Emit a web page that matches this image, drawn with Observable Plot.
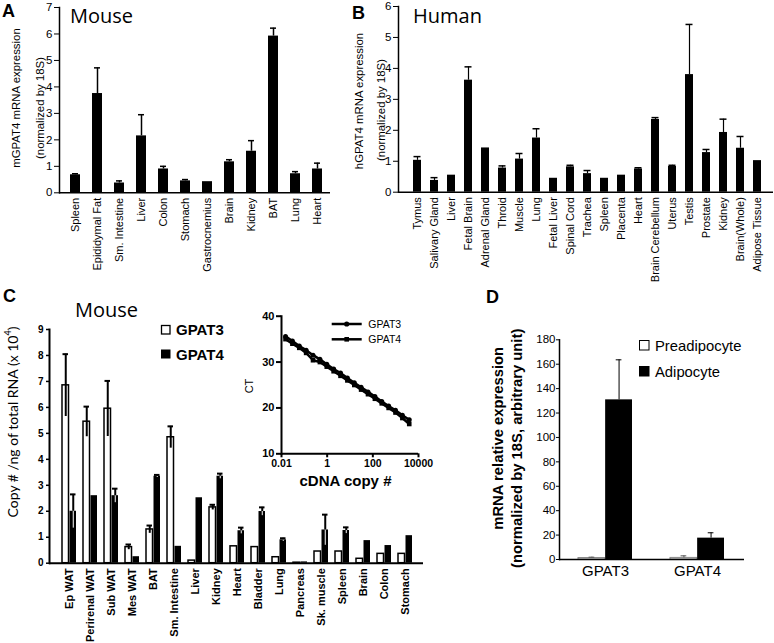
<!DOCTYPE html>
<html>
<head>
<meta charset="utf-8">
<script src="https://cdn.jsdelivr.net/npm/d3@7"></script>
<script src="https://cdn.jsdelivr.net/npm/@observablehq/plot@0.6"></script>
<style>
html,body{margin:0;padding:0;background:#fff;}
#root{position:relative;width:774px;height:643px;overflow:hidden;background:#fff;}
#root svg{position:absolute;}
</style>
</head>
<body>
<div id="root"></div>
<script>
// ---------------- Panel A : mouse tissues ----------------
const aTissues = ["Spleen","Epididymal Fat","Sm. Intestine","Liver","Colon","Stomach","Gastrocnemius","Brain","Kidney","BAT","Lung","Heart"];
const aMean = [0.68,3.75,0.37,2.15,0.90,0.45,0.42,1.17,1.57,5.92,0.72,0.90];
const aErr  = [0.04,0.97,0.08,0.80,0.10,0.05,0.00,0.08,0.40,0.30,0.08,0.22];
const aTicks = [0,1,2,3,4,5,6,7];

// ---------------- Panel B : human tissues ----------------
const bTissues = ["Tymus","Salivary Gland","Liver","Fetal Brain","Adrenal Gland","Throid","Muscle","Lung","Fetal Liver","Spinal Cord","Trachea","Spleen","Placenta","Heart","Brain Cerebellum","Uterus","Testis","Prostate","Kidney","Brain(Whole)","Adipose Tissue"];
const bMean = [1.03,0.38,0.55,3.62,1.43,0.78,1.07,1.75,0.45,0.82,0.60,0.45,0.55,0.75,2.35,0.83,3.80,1.28,1.93,1.42,1.02];
const bErr  = [0.12,0.09,0.00,0.43,0.00,0.07,0.18,0.30,0.00,0.05,0.10,0.00,0.00,0.04,0.06,0.04,1.62,0.10,0.43,0.38,0.00];
const bTicks = [0,1,2,3,4,5,6];

// ---------------- Panel C : copy numbers ----------------
const cTissues = ["Ep WAT","Perirenal WAT","Sub WAT","Mes WAT","BAT","Sm. Intestine","Liver","Kidney","Heart","Bladder","Lung","Pancreas","Sk. muscle","Spleen","Brain","Colon","Stomach"];
const cGPAT3    = [6.85,5.45,5.95,0.62,1.30,4.85,0.10,2.15,0.65,0.62,0.23,0.02,0.45,0.45,0.17,0.36,0.36];
const cGPAT3Err = [1.20,0.58,1.07,0.10,0.15,0.42,0.00,0.10,0.00,0.00,0.00,0.00,0.00,0.00,0.00,0.00,0.00];
const cGPAT4    = [2.00,2.60,2.60,0.25,3.35,0.65,2.52,3.35,1.25,1.99,0.90,0.05,1.28,1.26,0.87,0.68,1.06];
const cGPAT4Err = [0.65,0.00,0.27,0.00,0.05,0.00,0.00,0.10,0.12,0.16,0.06,0.00,0.59,0.12,0.00,0.00,0.00];
const cTicks = [0,1,2,3,4,5,6,7,8,9];

// ---------------- Panel C inset : standard curves ----------------
const insetCopies = [0.015,0.03,0.06,0.12,0.24,0.48,0.96,1.92,3.84,7.68,15.4,30.7,61.4,123,246,492,983,1966,3932];
const insetCtGPAT3 = [35.6,34.6,33.5,32.6,31.5,30.6,29.5,28.5,27.6,26.5,25.5,24.5,23.5,22.5,21.4,20.4,19.5,18.4,17.4];
const insetCtGPAT4 = [35.0,34.0,33.1,32.0,30.4,30.0,29.0,28.0,27.0,26.0,25.0,24.0,23.0,22.0,21.0,20.0,19.0,17.8,16.5];
const insetXTicks = [0.01,1,100,10000];
const insetYTicks = [10,20,30,40];

// ---------------- Panel D : 3T3 cells ----------------
const dGenes = ["GPAT3","GPAT4"];
const dPre    = [1.2,1.3];
const dPreErr = [0.7,1.7];
const dAdi    = [130.8,17.5];
const dAdiErr = [32.8,4.4];
const dTicks = [0,20,40,60,80,100,120,140,160,180];

// ---------------------------------------------------------
const ARIAL = "'Liberation Sans', Arial, Helvetica, sans-serif";
const root = document.getElementById("root");
function put(el, left, top){ el.style.position="absolute"; el.style.left=left+"px"; el.style.top=top+"px"; root.appendChild(el); return el; }
const style = (size, weight="normal") => ({background:"none", fontFamily:ARIAL, fontSize:size+"px", fontWeight:weight, color:"#000", overflow:"visible"});
const plain = d => String(d);

// ---- A ----
const aData = aTissues.map((t,i)=>({t, v:aMean[i], e:aErr[i]}));
const aE = aData.filter(d=>d.e>0);
put(Plot.plot({
  width:340, height:290, marginLeft:59, marginRight:10, marginTop:7, marginBottom:97.7,
  style:style(11),
  x:{domain:aTissues, paddingInner:0.53, paddingOuter:0, insetLeft:6, insetRight:2, label:null},
  y:{domain:[0,7], label:null},
  marks:[
    Plot.barY(aData,{x:"t", y:"v", fill:"#000"}),
    Plot.ruleX(aE,{x:"t", y1:"v", y2:d=>d.v+d.e, strokeWidth:1.5}),
    Plot.tickY(aE,{x:"t", y:d=>d.v+d.e, strokeWidth:1.5, insetLeft:2, insetRight:2}),
    Plot.ruleY([0],{strokeWidth:1.5}),
    Plot.frame({anchor:"left", strokeWidth:1.5}),
    Plot.axisY({ticks:aTicks, tickFormat:plain, tickSize:5, tickPadding:2, fontSize:11.5, label:null}),
    Plot.axisX({tickSize:0, tickRotate:-90, tickPadding:5, fontSize:11, label:null})
  ]
}), 0, 0);

// ---- B ----
const bData = bTissues.map((t,i)=>({t, v:bMean[i], e:bErr[i]}));
const bE = bData.filter(d=>d.e>0);
put(Plot.plot({
  width:434, height:290, marginLeft:58, marginRight:1, marginTop:6, marginBottom:98.3,
  style:style(11),
  x:{domain:bTissues, paddingInner:0.547, paddingOuter:0, insetLeft:8, insetRight:6, label:null},
  y:{domain:[0,6], label:null},
  marks:[
    Plot.barY(bData,{x:"t", y:"v", fill:"#000"}),
    Plot.ruleX(bE,{x:"t", y1:"v", y2:d=>d.v+d.e, strokeWidth:1.2}),
    Plot.tickY(bE,{x:"t", y:d=>d.v+d.e, strokeWidth:1.5, insetLeft:0.5, insetRight:0.5}),
    Plot.ruleY([0],{strokeWidth:1.5}),
    Plot.frame({anchor:"left", strokeWidth:1.5}),
    Plot.axisY({ticks:bTicks, tickFormat:plain, tickSize:5, tickPadding:2, fontSize:11.5, label:null}),
    Plot.axisX({tickSize:0, tickRotate:-90, tickPadding:5, fontSize:11, label:null})
  ]
}), 340, 0);

// ---- C ----
const cData = cTissues.map((t,i)=>({t, g3:cGPAT3[i], e3:cGPAT3Err[i], g4:cGPAT4[i], e4:cGPAT4Err[i]}));
const c3E = cData.filter(d=>d.e3>0), c4E = cData.filter(d=>d.e4>0);
const HALF = 7.5;
put(Plot.plot({
  width:430, height:353, marginLeft:49, marginRight:7, marginTop:39, marginBottom:80.3,
  style:style(11, "bold"),
  x:{domain:cTissues, paddingInner:0.31, paddingOuter:0, insetLeft:6.2, insetRight:3.8, label:null},
  y:{domain:[0,9], label:null},
  marks:[
    Plot.barY(cData,{x:"t", y:"g4", fill:"#000", insetLeft:HALF}),
    Plot.barY(cData,{x:"t", y:"g3", fill:"#fff", stroke:"#000", strokeWidth:1.5, insetRight:HALF}),
    Plot.ruleX(c3E,{x:"t", y1:d=>d.g3-d.e3, y2:d=>d.g3+d.e3, dx:-HALF/2, strokeWidth:2}),
    Plot.tickY(c3E,{x:"t", y:d=>d.g3+d.e3, insetLeft:0.5, insetRight:HALF+0.5, strokeWidth:2}),
    Plot.ruleX(c4E,{x:"t", y1:d=>d.g4-d.e4, y2:"g4", dx:HALF/2, stroke:"#fff", strokeWidth:1}),
    Plot.ruleX(c4E,{x:"t", y1:"g4", y2:d=>d.g4+d.e4, dx:HALF/2, strokeWidth:2}),
    Plot.tickY(c4E,{x:"t", y:d=>d.g4+d.e4, insetLeft:HALF+0.5, insetRight:0.5, strokeWidth:2}),
    Plot.ruleY([0],{strokeWidth:2}),
    Plot.frame({anchor:"left", strokeWidth:2}),
    Plot.axisY({ticks:cTicks, tickFormat:plain, tickSize:3, tickPadding:3, fontSize:10, fontWeight:"bold", strokeWidth:1.5, label:null}),
    Plot.axisX({tickSize:0, tickRotate:-90, tickPadding:5, fontSize:11, fontWeight:"bold", label:null})
  ]
}), 0, 290);

// ---- C inset ----
const in3 = insetCopies.map((c,i)=>({c, ct:insetCtGPAT3[i]}));
const in4 = insetCopies.map((c,i)=>({c, ct:insetCtGPAT4[i]}));
put(Plot.plot({
  width:190, height:210, marginLeft:41, marginRight:12, marginTop:25.7, marginBottom:46.7,
  style:style(10.5, "bold"),
  x:{type:"log", domain:[0.01,10000], label:null},
  y:{domain:[10,40], label:null},
  marks:[
    Plot.line(in4,{x:"c", y:"ct", strokeWidth:2.5}),
    Plot.dot(in4,{x:"c", y:"ct", symbol:"square", r:2.6, fill:"#000"}),
    Plot.line(in3,{x:"c", y:"ct", strokeWidth:2.5}),
    Plot.dot(in3,{x:"c", y:"ct", r:2.5, fill:"#000"}),
    Plot.ruleY([10],{strokeWidth:2}),
    Plot.frame({anchor:"left", strokeWidth:2}),
    Plot.axisX({ticks:insetXTicks, tickFormat:plain, tickSize:4, tickPadding:2, fontSize:10.5, fontWeight:"bold", strokeWidth:2, label:null}),
    Plot.axisY({ticks:insetYTicks, tickFormat:plain, tickSize:5, tickPadding:2, fontSize:11, fontWeight:"bold", strokeWidth:2, label:null})
  ]
}), 240, 290);

// ---- D ----
const dData = dGenes.map((g,i)=>({g, pre:dPre[i], preE:dPreErr[i], adi:dAdi[i], adiE:dAdiErr[i]}));
const DH = 27.15;
put(Plot.plot({
  width:314, height:353, marginLeft:99, marginRight:30, marginTop:49.3, marginBottom:84,
  style:style(11.5),
  x:{domain:dGenes, paddingInner:0.413, paddingOuter:0.206, label:null},
  y:{domain:[0,180], label:null},
  marks:[
    Plot.barY(dData,{x:"g", y:"pre", fill:"#eeeeee", stroke:"#888", strokeWidth:1, insetRight:DH}),
    Plot.barY(dData,{x:"g", y:"adi", fill:"#000", insetLeft:DH}),
    Plot.ruleX(dData,{x:"g", y1:"pre", y2:d=>d.pre+d.preE, dx:-DH/2, stroke:"#555", strokeWidth:1}),
    Plot.tickY(dData,{x:"g", y:d=>d.pre+d.preE, insetLeft:DH/2-3, insetRight:DH+DH/2-3, stroke:"#555", strokeWidth:1}),
    Plot.ruleX(dData,{x:"g", y1:"adi", y2:d=>d.adi+d.adiE, dx:DH/2, strokeWidth:1}),
    Plot.tickY(dData,{x:"g", y:d=>d.adi+d.adiE, insetLeft:DH+DH/2-3, insetRight:DH/2-3, strokeWidth:1}),
    Plot.ruleY([0],{strokeWidth:1.5}),
    Plot.frame({anchor:"left", strokeWidth:1.5}),
    Plot.axisY({ticks:dTicks, tickFormat:plain, tickSize:3, tickPadding:1, fontSize:11.5, label:null}),
    Plot.axisX({tickSize:0, tickPadding:6, fontSize:15, label:null})
  ]
}), 460, 290);

// ---- overlay: panel letters, titles, axis titles, legends ----
const ov = d3.select(root).append("svg").attr("width",774).attr("height",643)
  .style("left","0px").style("top","0px").style("pointer-events","none").style("overflow","visible");
function txt(s, x, y, o={}){
  return ov.append("text").attr("x",x).attr("y",y)
    .attr("font-family", o.family || ARIAL).attr("font-size", o.size || 11)
    .attr("font-weight", o.weight || "normal").attr("fill","#000")
    .attr("text-anchor", o.anchor || "start").text(s);
}
function vtxt(s, cx, cy, o={}){
  return ov.append("text").attr("transform",`translate(${cx},${cy}) rotate(-90)`)
    .attr("font-family", o.family || ARIAL).attr("font-size", o.size || 11)
    .attr("font-weight", o.weight || "normal").attr("fill","#000")
    .attr("text-anchor","middle").attr("dominant-baseline","central").text(s);
}
// panel letters
txt("A", 2, 17, {size:18, weight:"bold"});
txt("B", 352, 19, {size:18, weight:"bold"});
txt("C", 3, 302, {size:18, weight:"bold"});
txt("D", 486, 303, {size:18, weight:"bold"});
// titles
txt("Mouse", 70, 22.5, {family:"'Open Sans'", size:20});
txt("Human", 413, 22.7, {family:"'Open Sans'", size:20});
txt("Mouse", 75, 316.7, {family:"'Open Sans'", size:20});
// A / B y titles
vtxt("mGPAT4 mRNA expression", 16, 98, {size:11.4});
vtxt("(normalized by 18S)", 40, 108, {size:11.4});
vtxt("hGPAT4 mRNA expression", 358.5, 101, {size:11.4});
vtxt("(normalized by 18S)", 381, 110, {size:11.4});
// C y title with superscript
{
  const t = vtxt("", 12, 422, {family:"Lato", size:14});
  t.append("tspan").text("Copy # /ng of total RNA (x 10");
  t.append("tspan").attr("dy",-5).attr("font-size",9).text("4");
  t.append("tspan").attr("dy",5).text(")");
}
// inset titles
vtxt("CT", 249, 386, {size:11});
txt("cDNA copy #", 345.5, 486, {size:15, weight:"bold", anchor:"middle"});
// inset legend
[["GPAT3",324,"circle"],["GPAT4",339.3,"square"]].forEach(([s,y,sym])=>{
  ov.append("line").attr("x1",331.7).attr("x2",361.7).attr("y1",y).attr("y2",y).attr("stroke","#000").attr("stroke-width",2.5);
  if(sym==="circle") ov.append("circle").attr("cx",346.7).attr("cy",y).attr("r",2.6).attr("fill","#000");
  else ov.append("rect").attr("x",344.4).attr("y",y-2.3).attr("width",4.6).attr("height",4.6).attr("fill","#000");
  txt(s, 368.3, y+3.6, {size:10.5});
});
// C legend
ov.append("rect").attr("x",161.5).attr("y",325.5).attr("width",8.5).attr("height",8.5).attr("fill","#fff").attr("stroke","#000").attr("stroke-width",1.3);
txt("GPAT3", 176, 335, {size:15, weight:"bold"});
ov.append("rect").attr("x",161).attr("y",349.5).attr("width",9.5).attr("height",9).attr("fill","#000");
txt("GPAT4", 176, 360, {size:15, weight:"bold"});
// D legend
ov.append("rect").attr("x",639.5).attr("y",340.5).attr("width",9.5).attr("height",9.5).attr("fill","#fff").attr("stroke","#000").attr("stroke-width",1);
txt("Preadipocyte", 655, 351, {size:14.8});
ov.append("rect").attr("x",639).attr("y",366).attr("width",10.5).attr("height",10.5).attr("fill","#000");
txt("Adipocyte", 655, 377, {size:14.8});
// D y title
vtxt("mRNA relative expression", 498.3, 438.3, {size:14.8, weight:"bold"});
vtxt("(normalized by 18S, arbitrary unit)", 516.7, 448.3, {size:14.8, weight:"bold"});
</script>
</body>
</html>
